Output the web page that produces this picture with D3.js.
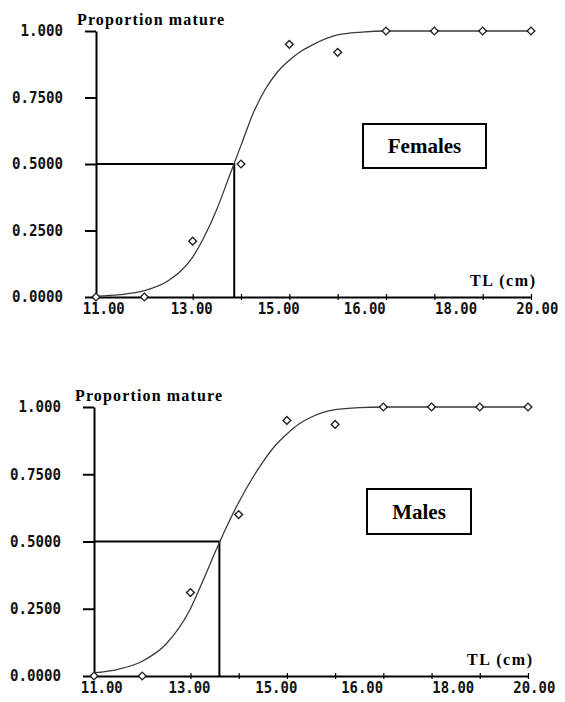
<!DOCTYPE html>
<html>
<head>
<meta charset="utf-8">
<script src="https://cdn.jsdelivr.net/npm/d3@7"></script>
<style>
	body { margin: 0; background: #ffffff; }
	svg { display: block; }
</style>
</head>
<body>
<div id="chart"></div>
<script>
// Observed lengths (TL, cm):
var lengthTL = [11, 12, 13, 14, 15, 16, 17, 18, 19, 20];
var femaleProportion = [0, 0, 0.21, 0.50, 0.95, 0.92, 1, 1, 1, 1];
var maleProportion   = [0, 0, 0.31, 0.60, 0.95, 0.935, 1, 1, 1, 1];

// Fitted curves:
var curveTL     = [11, 11.5, 12, 12.5, 13, 13.25, 13.5, 13.75, 14, 14.25, 14.5, 14.75, 15, 15.25, 15.5, 16, 16.5, 17, 18, 19, 20];
var femaleCurve = [0.003, 0.009, 0.024, 0.062, 0.15, 0.23, 0.33, 0.45, 0.57, 0.69, 0.78, 0.845, 0.89, 0.925, 0.95, 0.985, 0.996, 1, 1, 1, 1];
var maleCurve   = [0.012, 0.025, 0.055, 0.12, 0.25, 0.35, 0.455, 0.555, 0.645, 0.725, 0.795, 0.855, 0.90, 0.937, 0.962, 0.99, 0.998, 1, 1, 1, 1];

// Length at 50% maturity:
var femaleL50 = 13.86;
var maleL50 = 13.6;

// Ticks and tick labels:
var xTickValues = [11, 12, 13, 14, 15, 16, 17, 18, 19, 20];
var xTickLabels = ["11.00", "13.00", "15.00", "16.00", "18.00", "20.00"];
var xLabelPos   = [11.15, 12.97, 14.77, 16.55, 18.44, 20.12];
var yTickValues = [0, 0.25, 0.5, 0.75, 1];
var yTickLabels = ["0.0000", "0.2500", "0.5000", "0.7500", "1.000"];

var monoFont = "'DejaVu Sans Mono', 'Liberation Mono', monospace";
var serifFont = "'Liberation Serif', 'DejaVu Serif', serif";

var svg = d3.select("#chart")
	.append("svg")
	.attr("width", 565)
	.attr("height", 702);

function drawPanel(p)
{
	var g = svg.append("g");

	// Scales:
	var xScale = d3.scaleLinear().domain([11, 20]).range([p.left, p.right]);
	var yScale = d3.scaleLinear().domain([0, 1]).range([p.bottom, p.top]);

	// Y axis:
	var yAxis = g.append("g")
		.attr("transform", "translate(" + p.left + ",0)")
		.call(d3.axisLeft(yScale)
			.tickValues(yTickValues)
			.tickSizeInner(11)
			.tickSizeOuter(0)
			.tickPadding(22)
			.tickFormat(function(d, i){ return yTickLabels[i]; }));
	yAxis.select(".domain").attr("stroke-width", 2);
	yAxis.selectAll(".tick line").attr("stroke-width", 2);
	yAxis.selectAll("text")
		.attr("font-family", monoFont)
		.attr("font-weight", "bold")
		.attr("font-size", "16px")
		.attr("fill", "#111")
		.attr("dy", "0.3em")
		.attr("textLength", function(d, i){ return yTickLabels[i].length * 8.5; })
		.attr("lengthAdjust", "spacingAndGlyphs");

	// X axis line and small ticks:
	var xAxis = g.append("g")
		.attr("transform", "translate(0," + p.bottom + ")")
		.call(d3.axisBottom(xScale)
			.tickValues(xTickValues)
			.tickSizeInner(3)
			.tickSizeOuter(0)
			.tickFormat(""));
	xAxis.select(".domain").attr("stroke-width", 2);
	xAxis.selectAll(".tick line").attr("y1", -3).attr("y2", 3).attr("stroke-width", 1.2);

	// X tick labels (placed where the picture has them):
	var xLabels = g.append("g")
		.attr("transform", "translate(0," + p.bottom + ")")
		.call(d3.axisBottom(xScale)
			.tickValues(xLabelPos)
			.tickSize(0)
			.tickFormat(function(d, i){ return xTickLabels[i]; }));
	xLabels.select(".domain").remove();
	xLabels.selectAll("text")
		.attr("y", 6)
		.attr("dy", "0.71em")
		.attr("font-family", monoFont)
		.attr("font-weight", "bold")
		.attr("font-size", "16px")
		.attr("fill", "#111")
		.attr("textLength", 42)
		.attr("lengthAdjust", "spacingAndGlyphs");

	// 50% reference lines:
	g.append("path")
		.attr("d", "M" + xScale(11) + "," + yScale(0.5) + "H" + xScale(p.l50) + "V" + yScale(0))
		.attr("fill", "none")
		.attr("stroke", "#000")
		.attr("stroke-width", 2);

	// Fitted curve:
	var line = d3.line()
		.x(function(d){ return xScale(d[0]); })
		.y(function(d){ return yScale(d[1]); })
		.curve(d3.curveMonotoneX);

	g.append("path")
		.datum(curveTL.map(function(d, i){ return [d, p.curve[i]]; }))
		.attr("d", line)
		.attr("fill", "none")
		.attr("stroke", "#3a3a3a")
		.attr("stroke-width", 1.3);

	// Observed points (diamonds):
	g.append("g")
		.selectAll("path")
		.data(lengthTL.map(function(d, i){ return [d, p.points[i]]; }))
		.enter()
		.append("path")
		.attr("d", d3.symbol().type(d3.symbolSquare).size(30))
		.attr("transform", function(d){
			return "translate(" + xScale(d[0]) + "," + yScale(d[1]) + ") rotate(45)";
		})
		.attr("fill", "#fff")
		.attr("stroke", "#222")
		.attr("stroke-width", 1.4);

	// Axis titles:
	g.append("text")
		.attr("x", p.left - 19)
		.attr("y", p.top - 6)
		.attr("font-family", serifFont)
		.attr("font-weight", "bold")
		.attr("font-size", "16px")
		.attr("textLength", 147)
		.attr("lengthAdjust", "spacing")
		.text("Proportion mature");

	g.append("text")
		.attr("x", p.right + 4)
		.attr("y", p.bottom - 11)
		.attr("text-anchor", "end")
		.attr("font-family", serifFont)
		.attr("font-weight", "bold")
		.attr("font-size", "16px")
		.attr("textLength", 65)
		.attr("lengthAdjust", "spacing")
		.text("TL (cm)");

	// Sex label box:
	g.append("rect")
		.attr("x", p.box.x)
		.attr("y", p.box.y)
		.attr("width", p.box.w)
		.attr("height", p.box.h)
		.attr("fill", "#fff")
		.attr("stroke", "#000")
		.attr("stroke-width", 2);

	g.append("text")
		.attr("x", p.box.x + p.box.w / 2)
		.attr("y", p.box.y + p.box.h / 2 + 7)
		.attr("text-anchor", "middle")
		.attr("font-family", serifFont)
		.attr("font-weight", "bold")
		.attr("font-size", "21px")
		.text(p.label);
}

drawPanel({
	left: 96, right: 531, top: 31, bottom: 297,
	points: femaleProportion, curve: femaleCurve, l50: femaleL50,
	label: "Females",
	box: { x: 363, y: 124, w: 123, h: 44 }
});

drawPanel({
	left: 94, right: 528, top: 407, bottom: 676,
	points: maleProportion, curve: maleCurve, l50: maleL50,
	label: "Males",
	box: { x: 367, y: 489, w: 104, h: 45 }
});
</script>
</body>
</html>
